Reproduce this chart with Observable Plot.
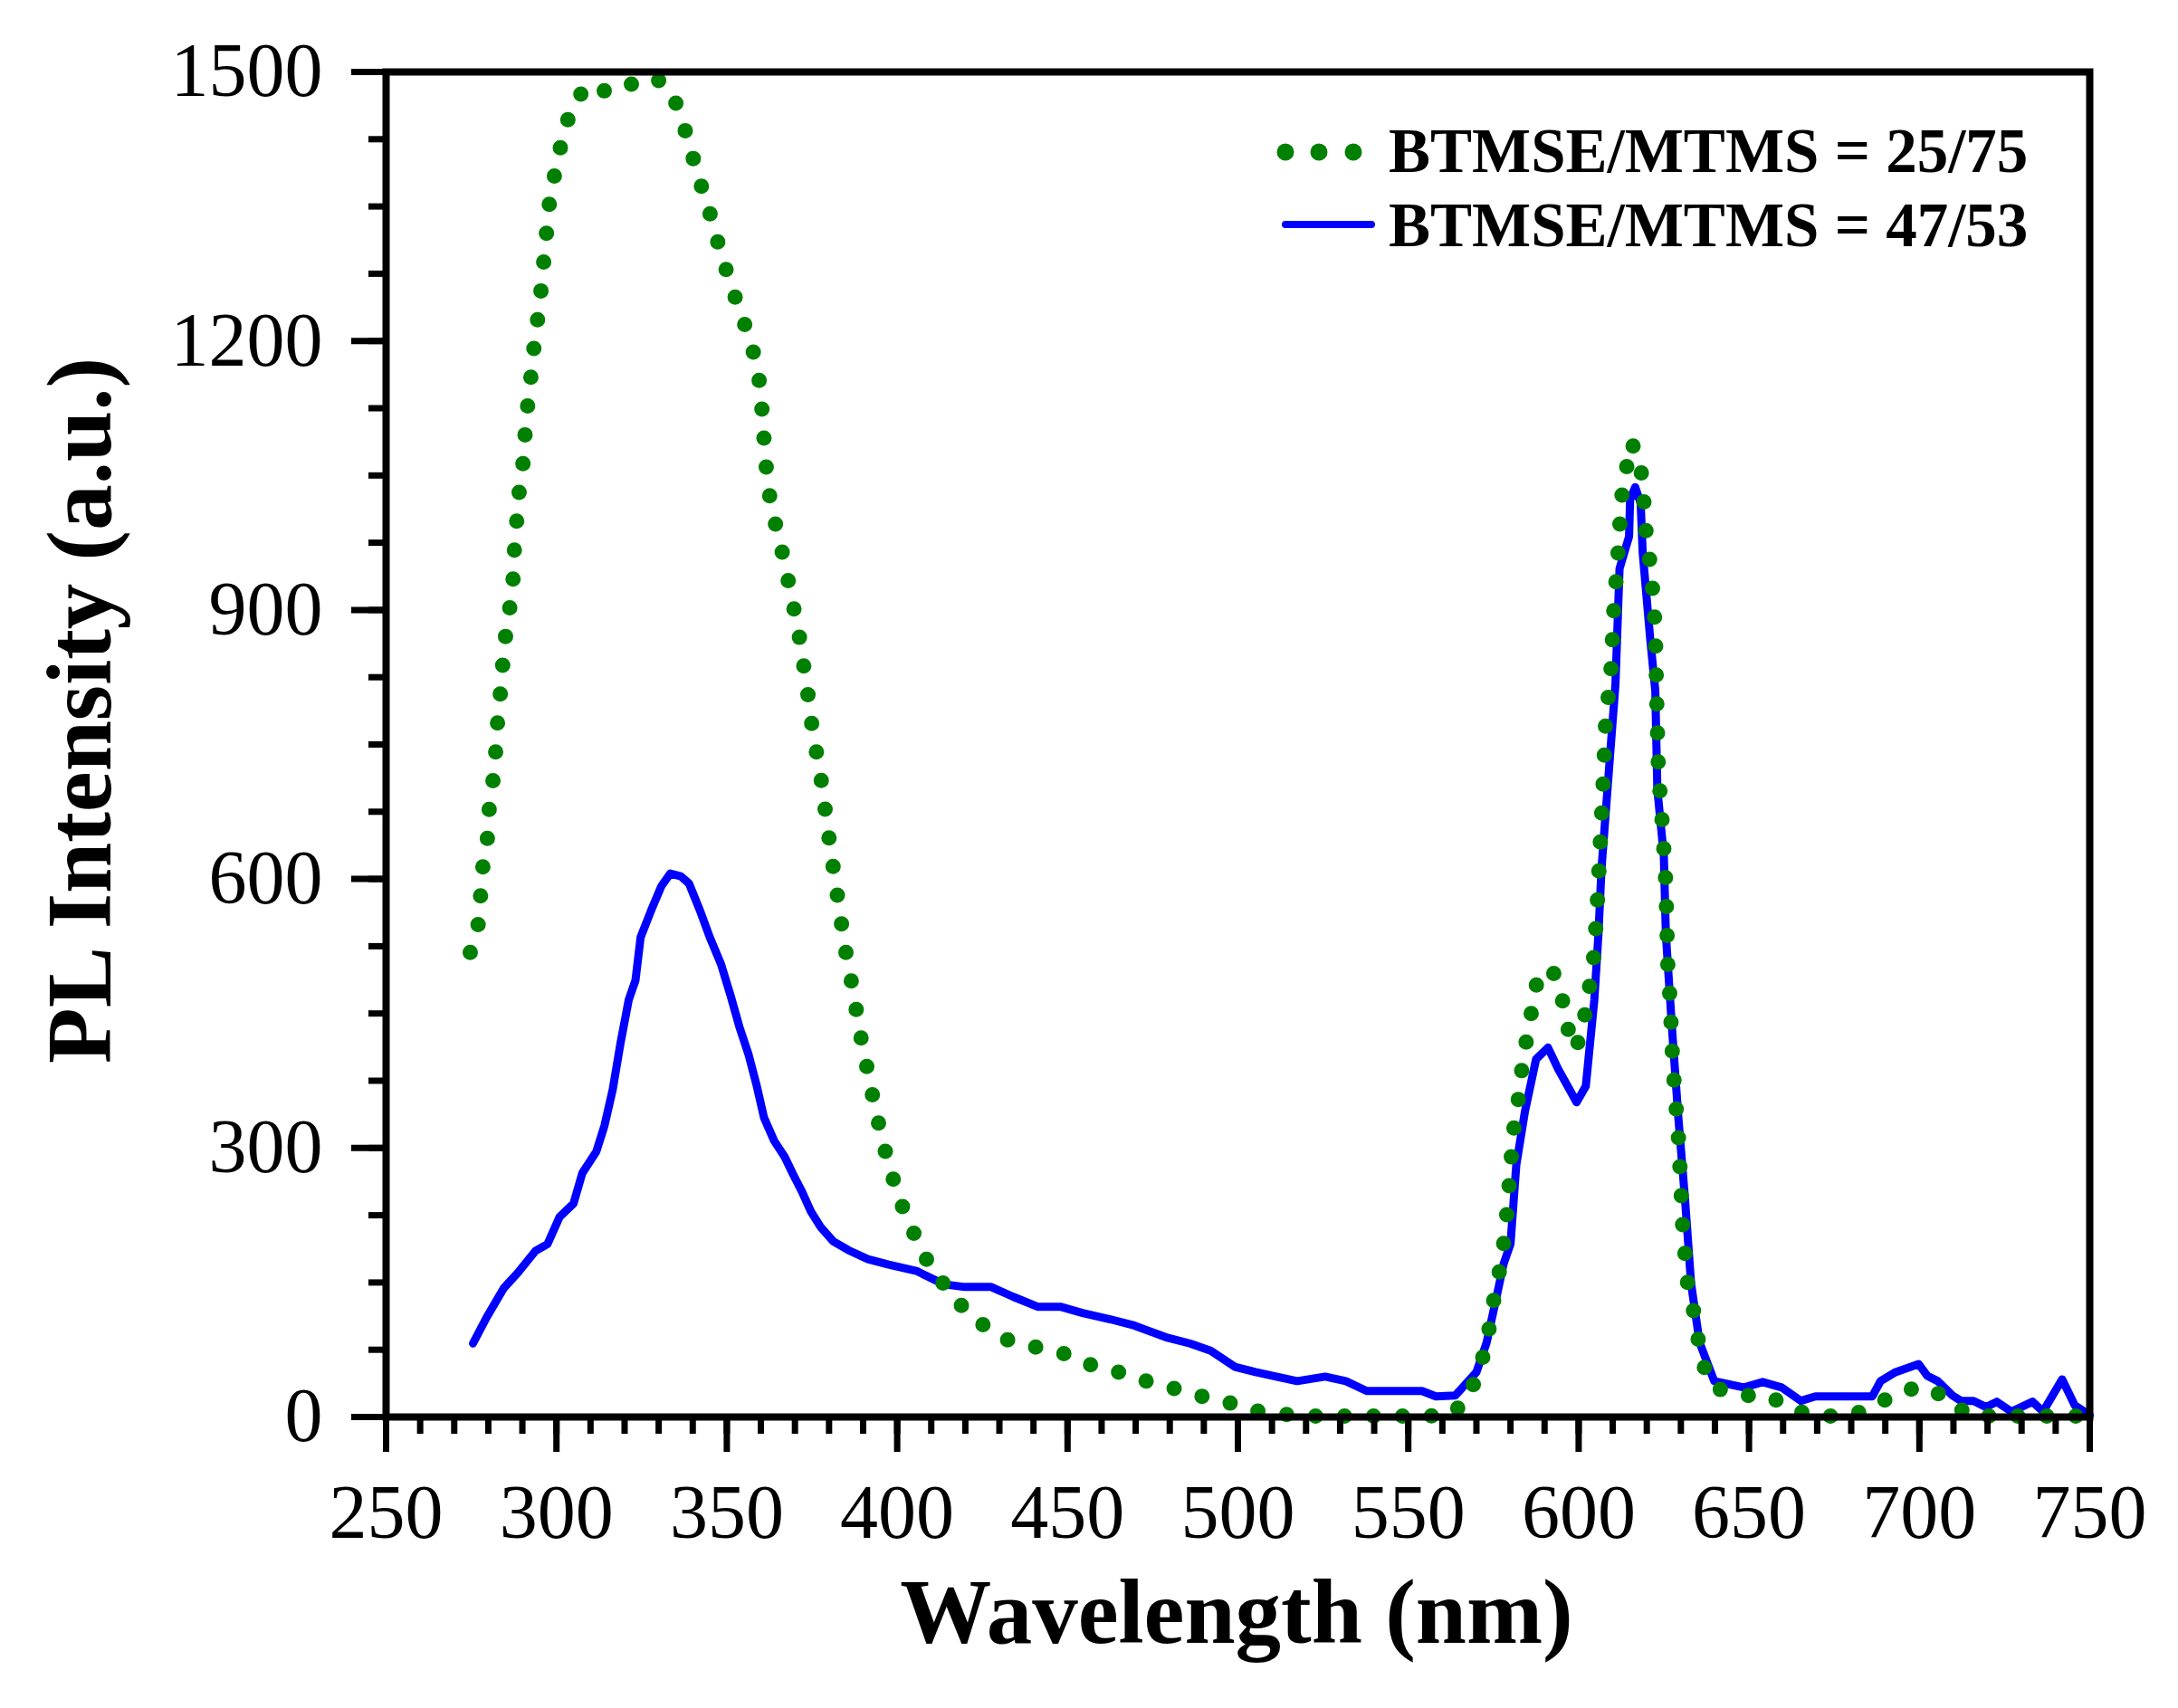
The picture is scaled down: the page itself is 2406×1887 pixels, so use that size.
<!DOCTYPE html>
<html>
<head>
<meta charset="utf-8">
<script src="https://cdn.jsdelivr.net/npm/d3@7"></script>
<script src="https://cdn.jsdelivr.net/npm/@observablehq/plot@0.6"></script>
<style>
  body { margin: 0; background: #fff; }
  #chart svg { display: block; }
</style>
</head>
<body>
<div id="chart"></div>
<script>
// BTMSE/MTMS = 25/75 (green dotted)
const greenWl = [274.7,277,277.7,278.3,279.7,280.2,281.3,282.1,282.6,283.4,284.1,284.8,286.1,287.2,287.5,288.2,288.7,290,290.6,291.2,292.2,293,294,295.1,295.9,296.7,297.5,298.3,300.4,301.8,304.6,308.8,315.7,321.7,329.4,334.4,337.3,339.6,341.8,344.5,346.6,349,351.5,354.3,357,359.1,360.1,360.6,361.3,361.9,363.4,365.2,367.3,368.7,370.6,371.9,373.1,374.3,375.3,376.9,378.2,379.2,380.4,381.6,382.8,384,385.3,386.9,388.3,389.7,391.4,393,394.8,396.8,399.1,401.7,405,408.4,413.1,418.4,424.7,432.4,440.6,448.1,456,464.2,472.1,480.2,488.4,496.5,504.8,513,521.5,538,554,562.2,567.2,570.6,572.8,574.3,575.5,577.4,578.3,579.2,579.8,580.5,581.3,582.7,583.5,585,586.4,587.9,592.2,595,596.5,598.4,600.9,602.1,603.5,604.6,605.6,606.4,607.2,607.9,609.5,610.3,611.5,612.6,615.3,617.8,618.8,619.4,620,621.3,621.9,622.5,623,623.4,624.6,625.6,626.2,626.8,627.5,628,629.3,629.7,630.5,631.8,633.6,634.9,636.7,639.6,647.2,655.7,663.1,671.4,679.7,687.2,694,701.4,707.2,714.7,730,750]
const greenI = [518,549,580,611,644,676,707,738,770,801,833,864,897,928,960,991,1023,1054,1086,1117,1148,1180,1211,1242,1274,1306,1337,1368,1399,1430,1460,1485,1477,1486,1493,1472,1441,1411,1381,1350,1320,1289,1259,1229,1199,1168,1137,1105,1074,1041,1011,980,949,917,887,855,824,793,761,730,698,667,635,603,573,541,510,479,447,416,385,354,323,292,262,233,204,177,151,126,104,86,78,72,59,51,41,33,24,17,7,3,1,1,1,2,19,50,79,111,141,174,204,237,269,302,333,363,395,427,457,488,500,470,439,410,424,456,487,518,582,644,708,773,835,899,960,1025,1087,1072,1040,1008,976,945,912,881,786,723,659,595,500,468,406,375,311,281,215,153,121,90,57,33,24,24,7,1,1,13,28,34,23,1,1,1]

// BTMSE/MTMS = 47/53 (blue solid)
const blueWl = [275.5,279.5,284.6,288.7,293.8,297.4,300.9,305,307.6,311.7,314.1,316.5,318.8,321.2,323.2,324.7,327.9,330.8,333.4,336.5,338.9,342.2,345,348.3,351.1,353.7,356.4,358.8,360.9,363.9,367,369.4,372.1,374.7,377.5,381.2,385.7,391.4,397.5,405.6,413.7,419.8,427.6,434.1,441.2,447.9,454.4,462.5,469.6,478.8,485.9,492,499.1,505.2,517.4,525.6,531.7,537.8,554,558.1,563.8,570,573,575.5,578,580,581.7,584.2,587.5,591,594,599.4,602.1,604.6,605.8,606.7,608.9,610.8,612,614.8,615.1,616.6,618.2,618.8,621,622.5,623.1,625,625.6,627.5,629.3,631.2,633,635.5,639.8,648.5,654,659.6,665.2,669.5,686.2,688.6,693,699.8,702.3,705.4,709.7,712.2,715.9,719.6,722.7,727,733.2,736.3,741.9,745.6,750]
const blueI = [82,111,144,161,185,193,223,238,272,296,325,365,417,465,487,535,566,592,606,603,595,564,535,505,470,435,404,369,334,308,290,271,251,229,212,196,186,176,170,163,148,145,145,134,123,123,116,109,102,89,82,74,56,50,40,45,40,29,29,23,24,50,83,127,171,193,281,340,399,412,388,351,369,465,538,611,722,817,946,982,1023,1037,1019,964,868,810,700,626,538,428,332,244,149,83,40,33,39,33,18,23,23,40,50,59,46,40,24,18,18,11,17,6,17,6,42,13,2]

const xTicks = [250, 300, 350, 400, 450, 500, 550, 600, 650, 700, 750]
const yTicks = [0, 300, 600, 900, 1200, 1500]
const xMinor = d3.range(250, 751, 10)
const yMinor = d3.range(0, 1501, 75)

const seriesNames = ["BTMSE/MTMS = 25/75", "BTMSE/MTMS = 47/53"]

const green = greenWl.map((w, i) => ({wl: w, pl: greenI[i]}))
const blue = blueWl.map((w, i) => ({wl: w, pl: blueI[i]}))

const W = 2406, H = 1887
const ml = 426, mr = 98, mt = 79, mb = 322

let chart = Plot.plot({
  width: W,
  height: H,
  marginLeft: ml,
  marginRight: mr,
  marginTop: mt,
  marginBottom: mb,
  x: {domain: [250, 750]},
  y: {domain: [0, 1500]},
  style: {
    fontFamily: "'Liberation Serif', 'Times New Roman', serif",
    background: "#fff",
    color: "#000"
  },
  marks: [
    Plot.line(blue, {x: "wl", y: "pl", stroke: "#0000ff", strokeWidth: 9, strokeLinejoin: "round"}),
    Plot.line(green, {x: "wl", y: "pl", stroke: "#008000", strokeWidth: 17,
      strokeDasharray: "0 32", strokeLinecap: "round"}),
    Plot.axisX(xMinor, {tickSize: 19, tickFormat: () => "", strokeWidth: 7, label: null}),
    Plot.axisX(xTicks, {tickSize: 39, tickPadding: 35, fontSize: 84, strokeWidth: 7,
      tickFormat: d => String(d), label: null}),
    Plot.axisY(yMinor, {tickSize: 19, tickFormat: () => "", strokeWidth: 7, label: null}),
    Plot.axisY(yTicks, {tickSize: 38, tickPadding: 32, fontSize: 84, strokeWidth: 7,
      tickFormat: d => String(d), label: null}),
    Plot.frame({stroke: "#000", strokeWidth: 8})
  ]
})

d3.select("#chart").append(() => chart)

const svg = d3.select(chart)

// axis titles
svg.append("text")
  .attr("x", 1366).attr("y", 1815)
  .attr("text-anchor", "middle")
  .attr("font-size", 101).attr("font-weight", "bold")
  .attr("font-family", "'Liberation Serif', serif")
  .attr("fill", "#000")
  .text("Wavelength (nm)")

svg.append("text")
  .attr("transform", "translate(122,785) rotate(-90)")
  .attr("text-anchor", "middle")
  .attr("font-size", 101).attr("font-weight", "bold")
  .attr("font-family", "'Liberation Serif', serif")
  .attr("fill", "#000")
  .text("PL Intensity (a.u.)")

// legend
const leg = svg.append("g")
  .attr("font-family", "'Liberation Serif', serif")
  .attr("text-anchor", "start")
  .attr("font-weight", "bold").attr("font-size", 69).attr("fill", "#000")

leg.selectAll("circle").data([1420, 1457, 1495]).join("circle")
  .attr("cx", d => d).attr("cy", 168).attr("r", 9.5).attr("fill", "#008000")
leg.append("text").attr("x", 1534).attr("y", 190).text(seriesNames[0])

leg.append("line")
  .attr("x1", 1420).attr("x2", 1515).attr("y1", 248).attr("y2", 248)
  .attr("stroke", "#0000ff").attr("stroke-width", 8).attr("stroke-linecap", "round")
leg.append("text").attr("x", 1534).attr("y", 272).text(seriesNames[1])
</script>
</body>
</html>
